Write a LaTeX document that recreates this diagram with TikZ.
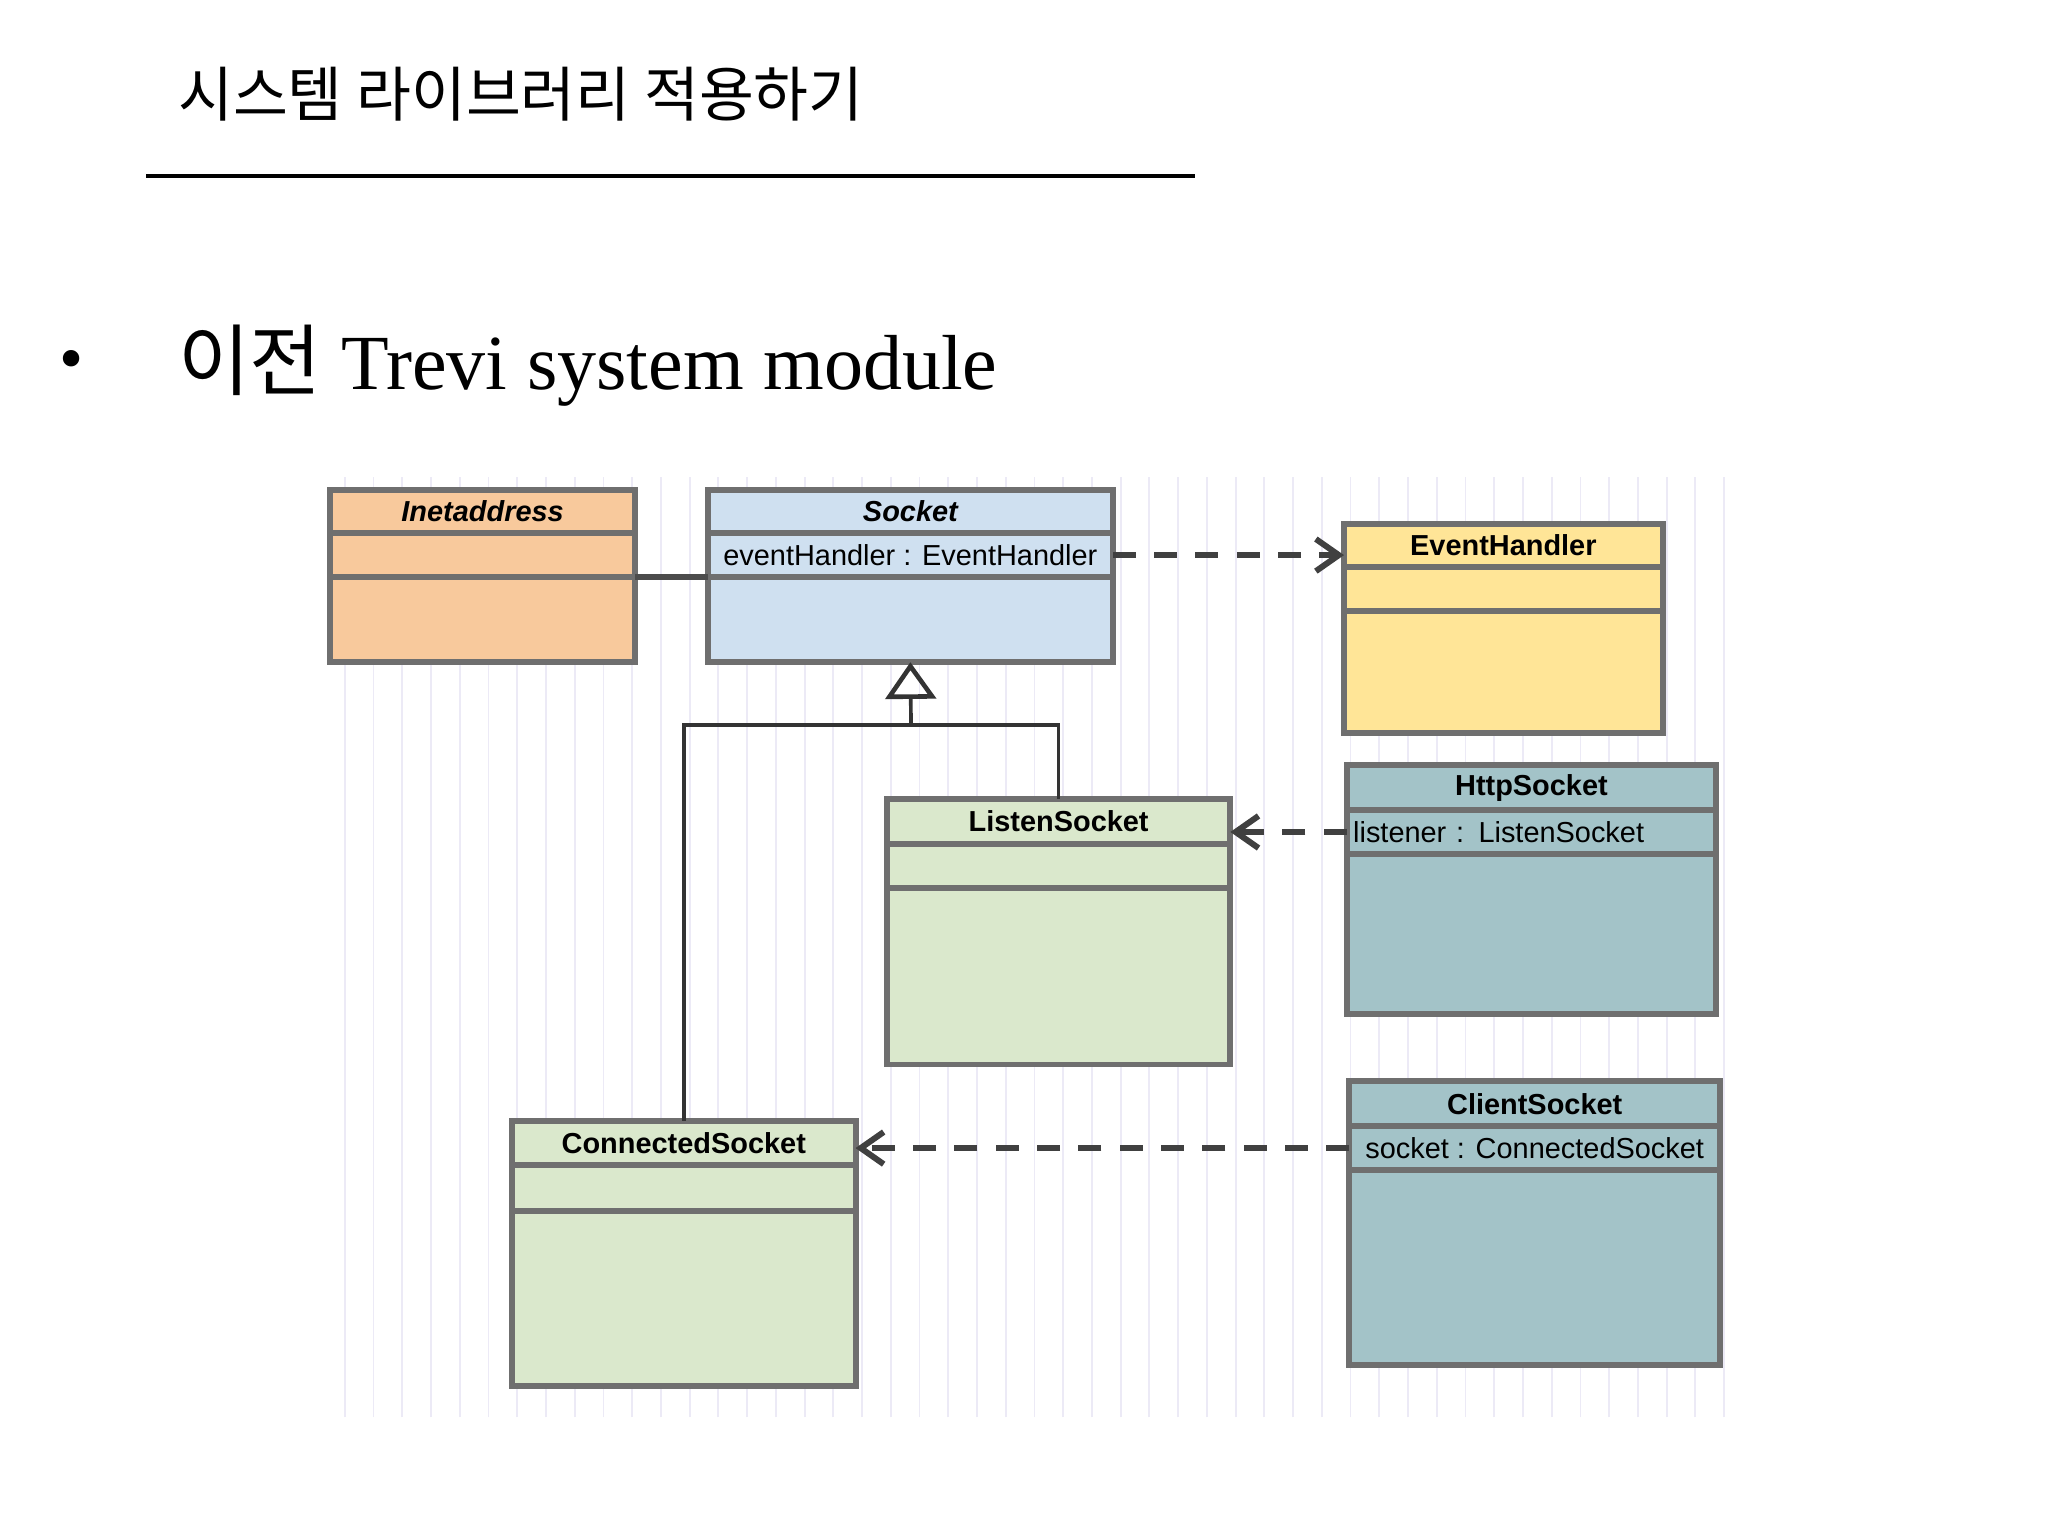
\documentclass[tikz,border=0pt]{standalone}
\usepackage{fontspec}
\setmainfont{Liberation Serif}
\newfontfamily\kr{Noto Sans CJK KR}
\newfontfamily\uml{Liberation Sans}
\usetikzlibrary{arrows.meta,positioning}
\definecolor{boxline}{HTML}{6F6F6F}
\definecolor{inetcol}{HTML}{F8C99C}
\definecolor{sockcol}{HTML}{CFE0F0}
\definecolor{evcol}{HTML}{FFE597}
\definecolor{greencol}{HTML}{DAE8CC}
\definecolor{tealcol}{HTML}{A3C3C8}
\definecolor{gridcol}{HTML}{ECEAF6}
\tikzset{%
    cls/.style={%
        rectangle, draw=boxline, line width=1.3pt, outer sep=0pt, inner sep=0pt, font=\uml\fontsize{6.3}{7}\selectfont
    },
    clshead/.style={%
        cls, font=\uml\bfseries\fontsize{6.3}{7}\selectfont
    },
    dep/.style={%
        densely dashed, dash pattern=on 5pt off 4pt, line width=1.3pt, draw=black!75, -{Straight Barb[length=5pt,width=7pt]}
    },
    inherit/.style={%
        line width=0.8pt, draw=black!80
    },
}
\begin{document}
\begin{tikzpicture}[x=1cm, y={(0,-1cm)}]
  \useasboundingbox[fill=white] (0,0) rectangle (15.68,11.76);

  % heading
  \node[anchor=west, font=\kr\fontsize{13}{15}\selectfont] (title) at (1.24,0.72) {시스템 라이브러리 적용하기};
  \draw[line width=0.9pt] (1.12,1.35) -- (9.15,1.35);
  \node[font=\fontsize{15}{18}\selectfont] (bullet) at (0.55,2.80) {•};
  \node[anchor=base west, font=\fontsize{17}{20}\selectfont] (subtitle) at (1.24,2.98) {{\kr 이전} Trevi system module};

  % grid background
  \draw[gridcol, line width=0.4pt, step=0.22] (2.43,3.65) grid (13.40,10.85);

  % classes
  \node[clshead, fill=inetcol, minimum width=2.33cm, minimum height=0.33cm, anchor=north west] (inet) at (2.53,3.75) {\itshape Inetaddress};
  \node[cls, fill=inetcol, minimum width=2.33cm, minimum height=0.34cm, below=0pt of inet] (inet-a) {};
  \node[cls, fill=inetcol, minimum width=2.33cm, minimum height=0.65cm, below=0pt of inet-a] (inet-b) {};

  \node[clshead, fill=sockcol, minimum width=3.10cm, minimum height=0.33cm, anchor=north west] (socket) at (5.42,3.75) {\itshape Socket};
  \node[cls, fill=sockcol, minimum width=3.10cm, minimum height=0.34cm, below=0pt of socket] (socket-a) {eventHandler : EventHandler};
  \node[cls, fill=sockcol, minimum width=3.10cm, minimum height=0.65cm, below=0pt of socket-a] (socket-b) {};

  \node[clshead, fill=evcol, minimum width=2.44cm, minimum height=0.33cm, anchor=north west] (handler) at (10.29,4.01) {EventHandler};
  \node[cls, fill=evcol, minimum width=2.44cm, minimum height=0.34cm, below=0pt of handler] (handler-a) {};
  \node[cls, fill=evcol, minimum width=2.44cm, minimum height=0.93cm, below=0pt of handler-a] (handler-b) {};

  \node[clshead, fill=greencol, minimum width=2.63cm, minimum height=0.34cm, anchor=north west] (listen) at (6.79,6.12) {ListenSocket};
  \node[cls, fill=greencol, minimum width=2.63cm, minimum height=0.34cm, below=0pt of listen] (listen-a) {};
  \node[cls, fill=greencol, minimum width=2.63cm, minimum height=1.35cm, below=0pt of listen-a] (listen-b) {};

  \node[clshead, fill=tealcol, minimum width=2.83cm, minimum height=0.34cm, anchor=north west] (http) at (10.31,5.86) {HttpSocket};
  \node[cls, fill=tealcol, minimum width=2.83cm, minimum height=0.34cm, below=0pt of http, text width=2.73cm] (http-a) {listener : ListenSocket};
  \node[cls, fill=tealcol, minimum width=2.83cm, minimum height=1.22cm, below=0pt of http-a] (http-b) {};

  \node[clshead, fill=greencol, minimum width=2.63cm, minimum height=0.34cm, anchor=north west] (connected) at (3.92,8.58) {ConnectedSocket};
  \node[cls, fill=greencol, minimum width=2.63cm, minimum height=0.35cm, below=0pt of connected] (connected-a) {};
  \node[cls, fill=greencol, minimum width=2.63cm, minimum height=1.34cm, below=0pt of connected-a] (connected-b) {};

  \node[clshead, fill=tealcol, minimum width=2.84cm, minimum height=0.34cm, anchor=north west] (client) at (10.33,8.28) {ClientSocket};
  \node[cls, fill=tealcol, minimum width=2.84cm, minimum height=0.34cm, below=0pt of client] (client-a) {socket : ConnectedSocket};
  \node[cls, fill=tealcol, minimum width=2.84cm, minimum height=1.49cm, below=0pt of client-a] (client-b) {};

  % relations
  \draw[inherit, line width=1.3pt, draw=black!70] (inet-a.south east) -- (socket-a.south west);
  \draw[dep] (socket-a.east) -- (socket-a.east -| handler.west);
  \draw[dep] (http-a.west) -- (http-a.west -| listen.east);
  \draw[dep] (client-a.west) -- (client-a.west -| connected.east);

  \coordinate (split) at (6.975,5.55);
  \draw[inherit] (connected.north) |- (split) -| (listen.north);
  \draw[inherit, -{Triangle[open, length=8pt, width=11pt, line width=1pt]}] (split) -- (socket-b.south);
\end{tikzpicture}
\end{document}
